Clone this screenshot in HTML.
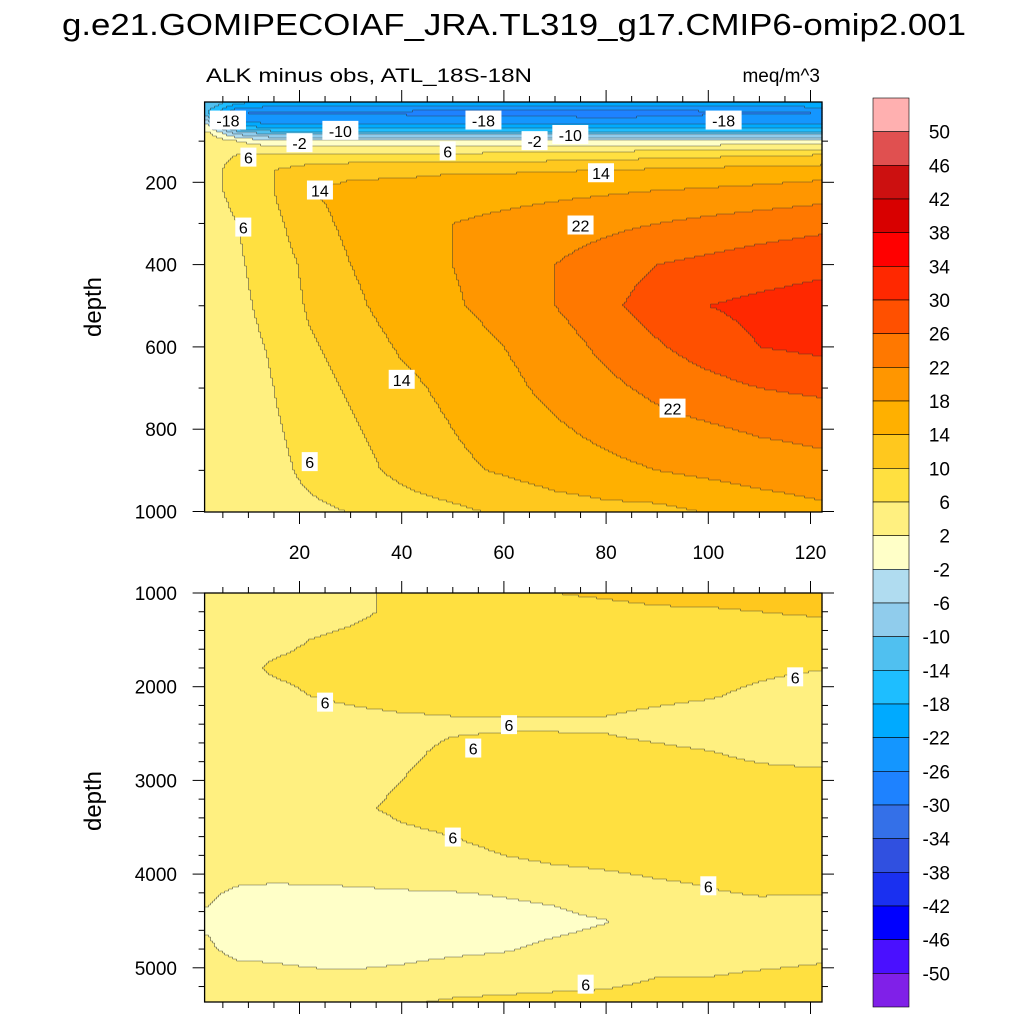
<!DOCTYPE html>
<html><head><meta charset="utf-8">
<style>
body{margin:0;background:#fff;}
svg{display:block;font-family:"Liberation Sans",sans-serif;}
</style></head>
<body>
<svg id="chart" width="1024" height="1024" viewBox="0 0 1024 1024" xmlns="http://www.w3.org/2000/svg">
<text x="62" y="35" font-size="31" textLength="904" lengthAdjust="spacingAndGlyphs">g.e21.GOMIPECOIAF_JRA.TL319_g17.CMIP6-omip2.001</text>
<text x="206" y="82" font-size="19" textLength="326" lengthAdjust="spacingAndGlyphs">ALK minus obs, ATL_18S-18N</text>
<text x="820" y="82" font-size="19" text-anchor="end">meq/m^3</text>
<g id="top-fill"></g>
<g id="bot-fill"></g>
<g id="lines"></g>
<g id="axes"></g>
<g id="labels"></g>
<g id="cbar"></g>
<text transform="translate(101,307) rotate(-90)" font-size="24" text-anchor="middle">depth</text>
<text transform="translate(101,801) rotate(-90)" font-size="24" text-anchor="middle">depth</text>
</svg>
<script>
const levels=[-50,-46,-42,-38,-34,-30,-26,-22,-18,-14,-10,-6,-2,2,6,10,14,18,22,26,30,34,38,42,46,50];
const colors=["#8020e8","#4a10ff","#0000ff","#1a30f0","#3050e0","#3470e8","#1e82ff","#1496ff","#00aaff","#1ebeff","#50c0f0","#90ccec","#b0dcf0","#ffffc8","#fff080","#ffe040","#ffc81e","#ffb000","#ff9600","#ff7800","#ff5000","#ff2800","#ff0000","#d80000","#cc1010","#e05050","#ffb0b0"];
const xGrid=[2,8,15,22,30,40,50,60,70,80,90,100,110,123];
const topDepths=[5,30,60,80,100,130,170,220,300,400,500,600,700,800,900,1000];
const topValues=[
[-10,-17,-18,-18,-18,-18,-18,-18,-18,-18,-18,-18,-18,-18],
[-14,-26,-27,-27,-27,-27,-28,-28,-28,-29,-28,-27,-27,-26],
[-2,-20,-22,-22,-22,-22,-22,-22,-22,-22,-22,-22,-22,-22],
[3,-8,-12,-12,-12,-12,-12,-12,-12,-12,-12,-12,-12,-12],
[5,2,-1,-1,-1,-1,-1,-1,-1,-1,-1,-1,-1,-1],
[5,6,6,6,6,6,6,6.5,7,7.5,8,8.5,9,9.5],
[5,7,10,12,13,13,13.5,13.5,13.7,14,14.5,15,15.5,16],
[5,7,10,14,15,15.5,16,16.5,17,17.5,18,18.5,19,20],
[4.5,6,9,12.5,15,17,18,19,20,21,22,23,24,25],
[4,5.5,8,11,14,16.5,18,20,22,24,26,27,28,29],
[3.5,5,7.5,10.5,13,16,17.5,19.5,22,25,28,30,31,32],
[3,4.5,6.5,9.5,11.5,14.5,16,18,20,23,25.5,28,30,31],
[3,4,6,8.5,10.5,13,15,17,19,21,23,24.5,26,27],
[2.5,3.5,5.5,7.5,9.5,12,14,16,17.5,19,20.5,21.5,22.5,23],
[2.5,3.5,5,6.8,8.5,11,13,14.5,16,17,18,19,20,21],
[2.5,3,4.5,5.3,6.1,8.2,9.2,10.6,12,12.8,13,14.2,15.5,17]];
const botDepths=[1000,1200,1500,1800,2100,2400,2700,3000,3300,3600,3900,4200,4500,4800,5100,5360];
const botValues=[
[4,4,4.5,4.5,5,7,8,9,10,10.5,11,11.5,12,14],
[4,4,4.5,5,5.5,6.5,7.5,8,8.5,9,9.5,9.5,10,10.5],
[4,4.5,5,6,6.5,7,7.5,8,8,8,8,8,8,8],
[4,5,6.5,7,7.5,7.5,7.5,7.5,7.5,7.5,7,6.8,6.5,6.1],
[4,4.5,5,6,6.5,7,7,7,7,7,6.6,6.2,5.5,4.5],
[4,4,4,4.5,5,5.3,5.6,5.7,5.7,5.6,5,4.5,4,4],
[4,4,4,4.3,4.8,5.5,6.5,6.8,6.8,6.8,6.5,6.1,5.5,5],
[4,4,4,4.5,5,6,7,7.5,7.5,7.5,7.5,7,6.8,6.8],
[4,4,4,4.5,5.5,6.5,7,7.5,7.5,7.5,7.5,7.5,7,7],
[4,4,4,4,4.5,5.5,6,7,7.5,7.5,7.5,7.5,7.5,7],
[4,3.5,3,3,3,3.5,4.5,5.5,6,6.5,7,7,7,7],
[2.5,1.5,1.5,1.6,1.7,1.8,1.9,2.2,2.6,4,5,5.8,6.2,6.1],
[1.5,0,0,0,0.3,0.5,0.8,1,1.3,1.9,3.5,4.5,4.5,4.5],
[2.5,1,1,1,1.2,1.4,1.6,1.8,2.5,3,4,4.5,4.5,5],
[4,3.5,3,2.5,2.3,2.5,3,3.5,4.5,5,6,6,6.5,7],
[4.5,4.5,4.5,4.5,5,5.5,6.5,7,7,7,7.5,7.5,7.5,7.5]];
const xTicks=[20,40,60,80,100,120];
const topYTicks=[200,400,600,800,1000];
const botYTicks=[1000,2000,3000,4000,5000];
const topLabels=[["-18",6,50],["-2",20,105],["-10",28,75],["6",10,140],["-18",56,50],["6",49,125],["-2",66,100],["-10",73,85],["-18",103,50],["14",79,178],["14",24,220],["6",9,310],["22",75,305],["14",40,680],["22",93,750],["6",22,880]];
const botLabels=[["6",25,2170],["6",61,2410],["6",54,2660],["6",117,1900],["6",50,3610],["6",100,4130],["6",76,5180]];

const NS="http://www.w3.org/2000/svg";
const L=204.6,R=822;
const xs=x=>197.3+(x)*5.11;
const xinv=p=>(p-197.3)/5.11;
const topY=d=>100+d*0.4115, topInv=p=>(p-100)/0.4115;
const botY=d=>593+(d-1000)*0.0937, botInv=p=>(p-593)/0.0937+1000;
const TT=102,TB=512,BT=593,BB=1002;
function seg(arr,v){let i=0;while(i<arr.length-2&&v>arr[i+1])i++;let t=(v-arr[i])/(arr[i+1]-arr[i]);t=Math.max(0,Math.min(1,t));return [i,t];}
function interp(gx,gy,vals,x,y){const [i,tx]=seg(gx,x);const [j,ty]=seg(gy,y);
const a=vals[j][i],b=vals[j][i+1],c=vals[j+1][i],d=vals[j+1][i+1];
return (a*(1-tx)+b*tx)*(1-ty)+(c*(1-tx)+d*tx)*ty;}
function cidx(v){let k=0;while(k<levels.length&&v>=levels[k])k++;return k;}
function mk(tag,attrs,parent){const e=document.createElementNS(NS,tag);for(const k in attrs)e.setAttribute(k,attrs[k]);parent.appendChild(e);return e;}
function fill(gid,y0,y1,yinv,depths,vals,nm){
 const g=document.getElementById(gid);const step=2;const grid=[];
 for(let py=y0;py<y1;py+=step){
  const d=yinv(py+step/2);let runStart=L,runC=-1;const row=[];
  for(let px=L;px<R+step;px+=step){
   let c=-1;if(px<R){c=cidx(interp(xGrid,depths,vals,xinv(px+step/2),d));row.push(c);}
   if(c!==runC){ if(runC>=0){const r=mk('rect',{x:runStart.toFixed(1),y:py,width:(Math.min(px,R)-runStart+0.6).toFixed(1),height:Math.min(step+0.5,y1-py),fill:colors[runC]},g);
     
     }
     runStart=px;runC=c;}
  }
  grid.push(row);
 }
 let p='';
 for(let j=0;j<grid.length;j++)for(let i=0;i<grid[j].length;i++){
  const x=L+i*step,y=y0+j*step;
  if(i+1<grid[j].length&&grid[j][i+1]!==grid[j][i])p+=`M${(x+step).toFixed(1)} ${y}v${step}`;
  if(j+1<grid.length&&grid[j+1][i]!==grid[j][i])p+=`M${x.toFixed(1)} ${y+step}h${step}`;
 }
 const pe=mk('path',{d:p,stroke:'#333','stroke-width':0.6,fill:'none','stroke-opacity':0.8},document.getElementById('lines'));
 
 
}
fill('top-fill',TT,TB,topInv,topDepths,topValues,'contour-cell-top');
fill('bot-fill',BT,BB,botInv,botDepths,botValues,'contour-cell-bottom');

const ax=document.getElementById('axes');
function line(x1,y1,x2,y2,w,nm){const l=mk('line',{x1,y1,x2,y2,stroke:'#000','stroke-width':w},ax);}
[[TT,TB],[BT,BB]].forEach(([t,b],pi)=>{
 const r=mk('rect',{x:L,y:t,width:R-L,height:b-t,fill:'none',stroke:'#000','stroke-width':1.3},ax);
 
 
 for(let x=5;x<=120;x+=5){const p=xs(x);const maj=x%20===0;const len=maj?12:6;
  line(p,t,p,t-len,1,'x-tick');line(p,b,p,b+len,1,'x-tick');}
});
xTicks.forEach(x=>{const t=mk('text',{x:xs(x),y:559,'font-size':19,'text-anchor':'middle'},ax);t.textContent=x;
 });
for(let d=100;d<=1000;d+=100){const p=topY(d);const maj=d%200===0;const len=maj?12:6;if(p<TT)continue;
 line(L,p,L-len,p,1,'y-tick-top');line(R,p,R+len,p,1,'y-tick-top');}
topYTicks.forEach(d=>{const t=mk('text',{x:177,y:topY(d)+7,'font-size':19,'text-anchor':'end'},ax);t.textContent=d;
 });
for(let d=1000;d<=5300;d+=200){const p=botY(d);const maj=d%1000===0;const len=maj?12:6;
 line(L,p,L-len,p,1,'y-tick-bottom');line(R,p,R+len,p,1,'y-tick-bottom');}
botYTicks.forEach(d=>{const t=mk('text',{x:177,y:botY(d)+7,'font-size':19,'text-anchor':'end'},ax);t.textContent=d;
 });

const lg=document.getElementById('labels');
function lab(arr,yf){arr.forEach(([s,x,d])=>{const px=xs(x),py=yf(d);const w=s.length*10+6;
 const r=mk('rect',{x:px-w/2,y:py-10,width:w,height:19,fill:'#fff'},lg);
 
 const t=mk('text',{x:px,y:py+6,'font-size':16,'text-anchor':'middle'},lg);t.textContent=s;
 });}
lab(topLabels,topY);lab(botLabels,botY);

const cb=document.getElementById('cbar');const cbT=98,cbB=1007,bh=(cbB-cbT)/colors.length;
for(let k=0;k<colors.length;k++){const idx=colors.length-1-k;
 const r=mk('rect',{x:873,y:cbT+k*bh,width:36,height:bh,fill:colors[idx],stroke:'#000','stroke-width':0.6},cb);
 }
levels.slice().reverse().forEach((v,k)=>{const t=mk('text',{x:950,y:cbT+(k+1)*bh+7,'font-size':19,'text-anchor':'end'},cb);t.textContent=v;
 });
</script>
</body></html>
